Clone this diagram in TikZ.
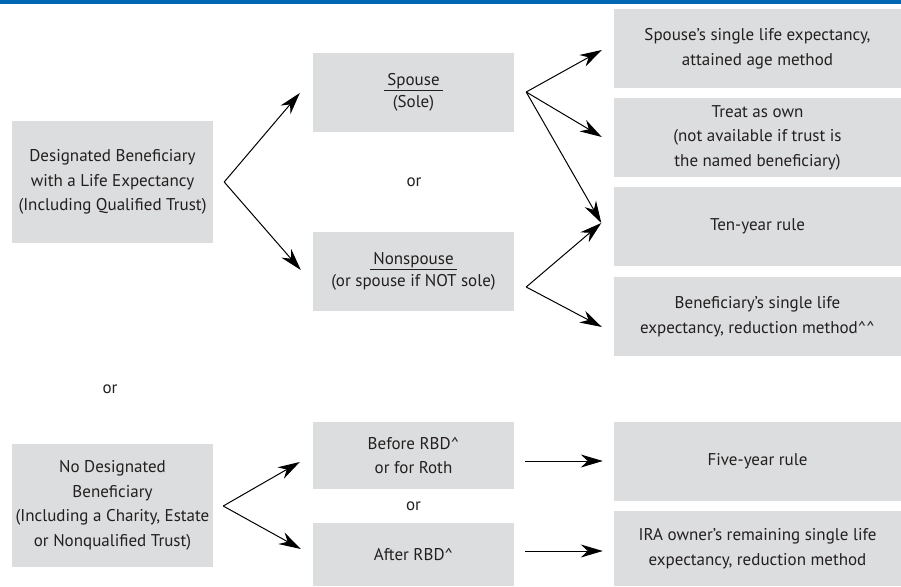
\documentclass[tikz,border=0pt]{standalone}
\usepackage{fontspec}
\setmainfont{PT Sans}
\usetikzlibrary{arrows.meta}
\definecolor{boxgray}{HTML}{DCDDDE}
\definecolor{txt}{HTML}{231F20}
\definecolor{banner}{HTML}{0068B3}
\newcommand{\barword}[1]{\underline{\hspace{3pt}#1\hspace{3pt}}}
\begin{document}
\begin{tikzpicture}[x=1pt,y=-1pt,
  box/.style={fill=boxgray, inner sep=0pt, align=center, text=txt,
    font=\fontsize{17}{24.5}\selectfont},
  ortext/.style={text=txt, font=\fontsize{17}{24.5}\selectfont},
  arr/.style={-{Stealth[length=22pt,width=13pt,inset=7pt]}, line width=1pt, black}]
\useasboundingbox (0,0) rectangle (901,586);
\fill[banner] (0,0) rectangle (901,4);
% left boxes
\node[box, minimum width=201pt, minimum height=122pt] (dbl) at (112.5,182)
  {Designated Beneficiary\\with a Life Expectancy\\(Including Qualified Trust)};
\node[box, minimum width=201pt, minimum height=123pt] (ndb) at (112.5,505.5)
  {No Designated\\Beneficiary\\(Including a Charity, Estate\\or Nonqualified Trust)};
% middle boxes
\node[box, minimum width=201pt, minimum height=79pt] (spouse) at (413.5,92.5)
  {\barword{Spouse}\\[-2pt](Sole)};
\node[box, minimum width=201pt, minimum height=79pt] (nonsp) at (413.5,271.5)
  {\barword{Nonspouse}\\[-2pt](or spouse if NOT sole)};
\node[box, minimum width=201pt, minimum height=67pt] (before) at (413.5,455.5)
  {Before RBD\^{}\\or for Roth};
\node[box, minimum width=201pt, minimum height=63pt] (after) at (413.5,554.5)
  {After RBD\^{}};
% right boxes
\node[box, minimum width=287pt, minimum height=79pt] (A) at (757.5,48.5)
  {Spouse’s single life expectancy,\\attained age method};
\node[box, minimum width=287pt, minimum height=79pt] (B) at (757.5,137.5)
  {Treat as own\\(not available if trust is\\the named beneficiary)};
\node[box, minimum width=287pt, minimum height=79pt] (C) at (757.5,226.5)
  {Ten-year rule};
\node[box, minimum width=287pt, minimum height=79pt] (D) at (757.5,316.5)
  {Beneficiary’s single life\\expectancy, reduction method\^{}\^{}};
\node[box, minimum width=287pt, minimum height=79pt] (five) at (757.5,461.5)
  {Five-year rule};
\node[box, minimum width=287pt, minimum height=75pt] (ira) at (757.5,548.5)
  {IRA owner’s remaining single life\\expectancy, reduction method};
% or labels
\node[ortext] (or1) at (414,182) {or};
\node[ortext] (or2) at (110,389) {or};
\node[ortext] (or3) at (413.5,506) {or};
% branch vertices
\coordinate (v1) at ([xshift=11pt]dbl.east);
\coordinate (v2) at ([xshift=12pt,yshift=0.5pt]spouse.east);
\coordinate (v3) at ([xshift=12pt,yshift=-15.5pt]nonsp.east);
\coordinate (v4) at ([xshift=10pt,yshift=-0.5pt]ndb.east);
\coordinate (cin) at ([xshift=-12.5pt,yshift=3.5pt]C.west);
% connectors
\draw[arr] (v1) -- ([xshift=-13pt,yshift=-0.5pt]spouse.west);
\draw[arr] (v1) -- ([xshift=-12pt,yshift=1.5pt]nonsp.west);
\draw[arr] (v2) -- ([xshift=-12pt,yshift=-1.5pt]A.west);
\draw[arr] (v2) -- ([xshift=-12pt,yshift=0.5pt]B.west);
\draw[arr] (v2) -- (cin);
\draw[arr] (v3) -- (cin);
\draw[arr] (v3) -- ([xshift=-12pt,yshift=-10.5pt]D.west);
\draw[arr] (v4) -- ([xshift=-13pt,yshift=-6.5pt]before.west);
\draw[arr] (v4) -- ([xshift=-12pt,yshift=5.5pt]after.west);
\draw[arr] ([xshift=11pt,yshift=-5.5pt]before.east) -- ([xshift=-11pt,yshift=0.5pt]five.west);
\draw[arr] ([xshift=11pt,yshift=3.5pt]after.east) -- ([xshift=-11pt,yshift=-2.5pt]ira.west);
\end{tikzpicture}
\end{document}
